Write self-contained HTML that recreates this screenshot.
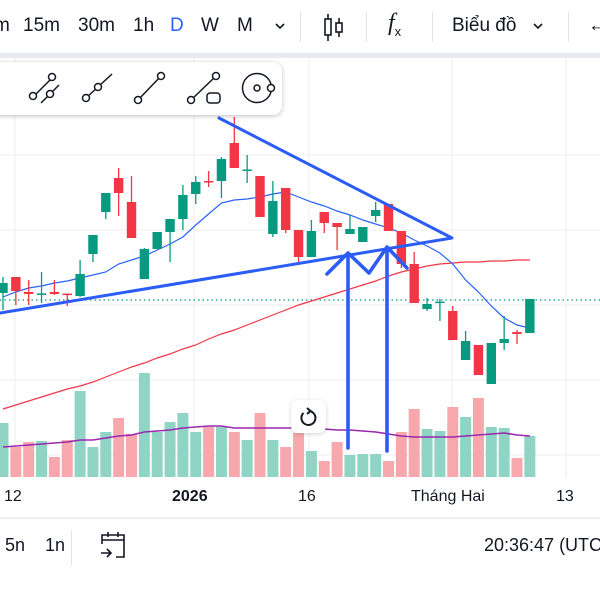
<!DOCTYPE html>
<html><head><meta charset="utf-8">
<style>
html,body{margin:0;padding:0;background:#fff;width:600px;height:600px;overflow:hidden;font-family:"Liberation Sans",sans-serif;color:#131722}
#root{position:relative;width:600px;height:600px;overflow:hidden}
.tb{position:absolute;top:0;left:0;width:600px;height:53px;background:#fff;border-bottom:5px solid #e8eaef}
.tb span{position:absolute;top:15px;font-size:19px;white-space:nowrap}
.sep{position:absolute;top:12px;width:1px;height:30px;background:#e0e3eb}
.draw{position:absolute;left:-12px;top:62px;width:294px;height:53px;background:#fff;border-radius:9px;box-shadow:0 1px 5px rgba(0,0,0,.25)}
.ax{position:absolute;top:488px;font-size:16px;white-space:nowrap}
.bot{position:absolute;top:535px;font-size:18px;white-space:nowrap}
</style></head>
<body><div id="root">
<svg id="chart" width="600" height="600" style="position:absolute;left:0;top:0"></svg>

<div class="tb">
<span style="left:-6px">m</span>
<span style="left:23px">15m</span>
<span style="left:78px">30m</span>
<span style="left:133px">1h</span>
<span style="left:170px;color:#2962ff">D</span>
<span style="left:201px">W</span>
<span style="left:237px">M</span>
<svg style="position:absolute;left:274px;top:22px" width="12" height="8"><path d="M2 2 L6 6 L10 2" fill="none" stroke="#131722" stroke-width="1.6"/></svg>
<div class="sep" style="left:300px"></div>
<svg style="position:absolute;left:322px;top:13px" width="24" height="30"><g stroke="#131722" stroke-width="1.6" fill="none"><line x1="6" y1="1" x2="6" y2="28"/><rect x="3" y="6" width="6" height="16" fill="#fff"/><line x1="17" y1="5" x2="17" y2="24"/><rect x="14" y="10" width="6" height="9" fill="#fff"/></g></svg>
<div class="sep" style="left:366px"></div>
<span style="left:388px;font-style:italic;font-family:'Liberation Serif',serif;font-size:24px;top:10px">f<sub style="font-size:13px;font-style:normal;font-family:'Liberation Sans'">x</sub></span>
<div class="sep" style="left:432px"></div>
<span style="left:452px">Biểu đồ</span>
<svg style="position:absolute;left:532px;top:22px" width="12" height="8"><path d="M2 2 L6 6 L10 2" fill="none" stroke="#131722" stroke-width="1.6"/></svg>
<div class="sep" style="left:568px"></div>
<span style="left:588px">←</span>
</div>

<div class="draw">
<svg width="294" height="53" style="position:absolute;left:0;top:0">
<g stroke="#131722" stroke-width="1.5" fill="#fff">
<circle cx="9" cy="14" r="2" fill="#131722" stroke="none"/>
<g><line x1="45" y1="35" x2="64" y2="16"/><line x1="53" y1="41" x2="71" y2="23"/><circle cx="45" cy="34" r="3.5"/><circle cx="64" cy="15" r="3.5"/><circle cx="62" cy="32" r="3.5"/></g>
<g><line x1="98" y1="36" x2="124" y2="12"/><circle cx="98" cy="36" r="3.5"/><circle cx="110" cy="25" r="3.5"/></g>
<g><line x1="150" y1="38" x2="173" y2="14"/><circle cx="150" cy="38" r="3.5"/><circle cx="173" cy="14" r="3.5"/></g>
<g><line x1="203" y1="38" x2="228" y2="14"/><circle cx="203" cy="38" r="3.5"/><circle cx="228" cy="14" r="3.5"/><rect x="219" y="31" width="13" height="10" rx="3"/></g>
<g><circle cx="269" cy="26" r="14.5"/><circle cx="269" cy="26" r="3"/><circle cx="283" cy="26" r="3.5"/></g>
</g></svg></div>

<div style="position:absolute;left:291px;top:400px;width:35px;height:33px;background:#fff;border-radius:7px;box-shadow:0 1px 4px rgba(0,0,0,.18)">
<svg width="35" height="33"><path d="M12.5 13 A7 7 0 1 0 18 11" fill="none" stroke="#131722" stroke-width="2"/><path d="M16 8 L19.5 11 L16 14" fill="none" stroke="#131722" stroke-width="2"/></svg></div>

<div class="ax" style="left:4px">12</div>
<div class="ax" style="left:172px;font-weight:bold">2026</div>
<div class="ax" style="left:298px">16</div>
<div class="ax" style="left:411px">Tháng Hai</div>
<div class="ax" style="left:556px">13</div>
<div style="position:absolute;left:0;top:517px;width:600px;height:2px;background:#eceef2"></div>
<div class="bot" style="left:5px">5n</div>
<div class="bot" style="left:45px">1n</div>
<div style="position:absolute;left:71px;top:530px;width:1px;height:35px;background:#e0e3eb"></div>
<svg style="position:absolute;left:98px;top:530px" width="32" height="30"><g stroke="#131722" stroke-width="1.6" fill="none"><path d="M4 14 V5 H26 V27 H18"/><line x1="4" y1="10" x2="26" y2="10"/><line x1="10" y1="2" x2="10" y2="7"/><line x1="20" y1="2" x2="20" y2="7"/><path d="M3 23 H13 M9 19 L13 23 L9 27"/></g></svg>
<div class="bot" style="left:484px">20:36:47 (UTC</div>
</div>
<script>
const opens  =[63.5,71.5,64,63,64,63.2,62,83,104,121,109,70.5,85.5,94,100.5,113,119.5,119.5,138.5,125,122,93,116,95,81.5,104,98.5,93,89,102,108,94.5,78,55.5,59,54.5,30,37.5,18,38.5,44,43.5];
const highs  =[71.5,71.5,70,74,70,63.2,80,92.5,113.5,126,122,86,94,100.5,117.5,122,124.5,131.5,151.5,132.5,122,119.5,116,95,100,104,98.5,102.5,96.5,109,108,94.5,84,61,60.5,57,44.5,37.5,38.5,52,45,60.5];
const lows   =[55,57.5,57.5,58.5,62.5,57,61.5,79,100.5,102,91,70.5,85.5,79,95,108,116.5,111,126,118.5,101.5,91.5,93.5,78.5,81.5,93.5,85,93,89,99,94.5,76,58.5,54.5,49.5,40,30,22.5,18,35,38,43.5];
const closes =[68.5,64.5,63,63.3,63,63,73,92.5,113.5,113.5,91,85.5,94,100.5,112.5,119,119,130.5,126,125.3,101.5,109.5,95,81.5,94.5,98.5,96.5,95.5,96.5,105,94.5,78,58.5,58,59.2,40,39.5,22.5,38.5,40.5,43,60.5];
const volumes=[54,30,35,36,20,37,86,30,45,59,43,104,45,55,64,45,50,50,45,37,64,37,30,44,26,16,35,22,23,23,16,45,68,48,46,70,60,79,50,49,19,41];
const maFastY=[297,292,288,286,283,281,278,275,272,264,260,256,250,244,237,225,214,203,200,199,197,194,192,197,202,206,211,215,220,224,228,233,240,246,253,264,280,292,306,318,325,328];
const maFast = maFastY.map(y=>(420-y)/2);
const maSlow =[5.5,7.5,9.5,11.5,13.5,15.5,17,19,21.5,24,26.5,28.5,31,33,35.5,37.5,40.5,43,45,47.5,50,52.5,55,57.5,59.5,61.5,63.5,65.5,67.5,69.5,72,74,75.5,77,78,78.5,79,79,79.5,79.5,80,80];
const volMA =[30,31,32,33,34,35,37,37,39,41,42,45,46,47,49,50,51,51,49,49,49,49,49,49,49,48,47,47,46,45,43,41,40,40,40,40,41,42,43,44,42,41];
const lastPrice = 60;

const svg=document.getElementById('chart');const NS='http://www.w3.org/2000/svg';
function mk(t,a,p){const e=document.createElementNS(NS,t);for(const k in a)e.setAttribute(k,a[k]);(p||svg).appendChild(e);return e;}
const xS=i=>3+i*12.85;
const yS=p=>420-2*p;
const yV=v=>477-v;
[15,194,309,452,566].forEach(x=>{const g=mk('line',{x1:x,y1:58,x2:x,y2:478,stroke:'#f0f1f4','stroke-width':1.3});

});
[155,230,305,380,455].forEach(y=>{const g=mk('line',{x1:0,y1:y,x2:600,y2:y,stroke:'#f0f1f4','stroke-width':1.3});

});
volumes.forEach((v,i)=>{const up=closes[i]>=opens[i];
const r=mk('rect',{x:xS(i)-5.5,y:yV(v),width:11,height:v,fill:up?'#8fd4c4':'#f7a8ac'});

});
function line(arr,fy,color,w,name){const d=arr.map((v,i)=>(i?'L':'M')+xS(i).toFixed(1)+' '+fy(v).toFixed(1)).join(' ');
const p=mk('path',{d:d,fill:'none',stroke:color,'stroke-width':w});

}
line(volMA,yV,'#9c27b0',1.6,'volume-ma-line');
line(maSlow,yS,'#f23645',1.2,'slow-ma-line');
line(maFast,yS,'#2962ff',1.2,'fast-ma-line');
const dl=mk('line',{x1:0,y1:yS(lastPrice),x2:600,y2:yS(lastPrice),stroke:'#089981','stroke-width':1.2,'stroke-dasharray':'1.5 3'});


opens.forEach((o,i)=>{const c=closes[i],up=c>=o,col=up?'#089981':'#f23645',x=xS(i);
const g=mk('g',{});


mk('line',{x1:x,y1:yS(highs[i]),x2:x,y2:yS(lows[i]),stroke:col,'stroke-width':1.3},g);
const t=Math.min(yS(o),yS(c)),h=Math.max(1.5,Math.abs(yS(o)-yS(c)));
mk('rect',{x:x-4.7,y:t,width:9.4,height:h,fill:col},g);});
const dg=mk('g',{stroke:'#2b5cf5','stroke-width':3,fill:'none','stroke-linecap':'round','stroke-linejoin':'round'});


mk('path',{d:'M219 118 L452 238 L0 313'},dg);
const ag=mk('g',{stroke:'#2b5cf5','stroke-width':3.6,fill:'none','stroke-linecap':'round','stroke-linejoin':'round'});


mk('path',{d:'M348 448 L348 253 M327 274 L348 253 L369 273 L387 247 L407 268 M387 247 L387 451'},ag);
</script>
</body></html>
